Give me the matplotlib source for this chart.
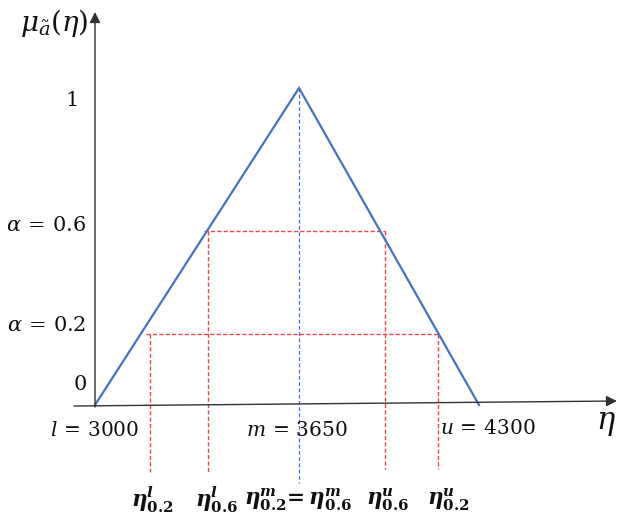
#%%############################################################################
# Triangular fuzzy number a = (l, m, u) with its alpha-cuts (schematic).
###############################################################################
import matplotlib
matplotlib.use('Agg')
import matplotlib.pyplot as plt
import numpy as np

#%%############################################################################
# Data
###############################################################################
eta_tri = [3000, 3650, 4300]          # l, m, u
mu_tri = [0, 1, 0]
alpha_levels = [0.2, 0.6]
# alpha-cut end points
cut_left = [3175, 3360]               # eta^l_0.2, eta^l_0.6
cut_right = [4152, 3960]              # eta^u_0.2, eta^u_0.6
cut_mid = 3650                        # eta^m_0.2 = eta^m_0.6

bottom_labels = [r'$\mathbfit{\eta}^{\mathbfit{l}}_{\mathbf{0.2}}$',
                 r'$\mathbfit{\eta}^{\mathbfit{l}}_{\mathbf{0.6}}$',
                 r'$\mathbfit{\eta}^{\mathbfit{m}}_{\mathbf{0.2}}\!\mathbf{=}\mathbfit{\eta}^{\mathbfit{m}}_{\mathbf{0.6}}$',
                 r'$\mathbfit{\eta}^{\mathbfit{u}}_{\mathbf{0.6}}$',
                 r'$\mathbfit{\eta}^{\mathbfit{u}}_{\mathbf{0.2}}$']
bottom_x = [3182, 3389, 3648, 3971, 4188]

#%%############################################################################
# The drawing is not to scale: piecewise linear axes
###############################################################################
W, H = 629, 519

def piecewise(src, dst):
    src = np.asarray(src, float)
    dst = np.asarray(dst, float)
    def f(v):
        v = np.asarray(v, float)
        out = np.interp(v, src, dst)
        lo_slope = (dst[1] - dst[0]) / (src[1] - src[0])
        hi_slope = (dst[-1] - dst[-2]) / (src[-1] - src[-2])
        out = np.where(v < src[0], dst[0] + (v - src[0]) * lo_slope, out)
        out = np.where(v > src[-1], dst[-1] + (v - src[-1]) * hi_slope, out)
        return out
    return f

x_fwd = piecewise([3000, 3650, 4300], [95, 299, 479])
x_inv = piecewise([95, 299, 479], [3000, 3650, 4300])
y_fwd = piecewise([0, 0.2, 0.6, 1], [H - 405, H - 334, H - 231, H - 88])
y_inv = piecewise([H - 405, H - 334, H - 231, H - 88], [0, 0.2, 0.6, 1])

plt.rcParams['mathtext.fontset'] = 'custom'
plt.rcParams['mathtext.rm'] = 'DejaVu Serif'
plt.rcParams['mathtext.it'] = 'DejaVu Serif:italic'
plt.rcParams['mathtext.bf'] = 'DejaVu Serif:bold'
plt.rcParams['mathtext.bfit'] = 'DejaVu Serif:italic:bold'

fig = plt.figure(figsize=(W / 100, H / 100), dpi=100)
ax = fig.add_axes([0, 0, 1, 1])
ax.set_xscale('function', functions=(x_fwd, x_inv))
ax.set_yscale('function', functions=(y_fwd, y_inv))
ax.set_xlim(float(x_inv(0)), float(x_inv(W)))
ax.set_ylim(float(y_inv(0)), float(y_inv(H)))
ax.axis('off')

def fpos(px, py):
    # pixel position (from top left) -> figure fraction
    return (px / W, 1 - py / H)

BLUE = '#4472C4'
RED = '#F0434C'
INK = '#111111'

# axes arrows
ax.annotate('', xy=fpos(95, 12), xytext=fpos(95, 407), xycoords='figure fraction',
            arrowprops=dict(arrowstyle='-|>', color='#333333', lw=1.0, mutation_scale=16,
                            shrinkA=0, shrinkB=0))
ax.annotate('', xy=fpos(617, 401), xytext=fpos(74, 406), xycoords='figure fraction',
            arrowprops=dict(arrowstyle='-|>', color='#333333', lw=1.0, mutation_scale=16,
                            shrinkA=0, shrinkB=0))

# alpha cuts
drop = -0.19
for a, xl, xr in zip(alpha_levels, cut_left, cut_right):
    ax.plot([xl - 12, xr], [a, a], color=RED, lw=1.0, ls=(0, (3, 1.6)))
    ax.plot([xl, xl], [a, drop], color=RED, lw=1.0, ls=(0, (3, 1.6)))
    ax.plot([xr, xr], [a, drop + 0.01], color=RED, lw=1.0, ls=(0, (3, 1.6)))
ax.plot([cut_mid, cut_mid], [1, -0.22], color=BLUE, lw=0.9, ls=(0, (3, 2)))

# membership function
ax.plot(eta_tri, mu_tri, color=BLUE, lw=1.6, solid_joinstyle='miter')

# text
fig.text(*fpos(54, 23), r'$\mu_{\tilde{a}}(\eta)$', fontsize=20, color=INK, ha='center', va='center')
fig.text(*fpos(71, 100), '$1$', fontsize=15, color=INK, ha='center', va='center')
fig.text(*fpos(86, 225), r'$\alpha\,=\,0.6$', fontsize=15, color=INK, ha='right', va='center')
fig.text(*fpos(86, 325), r'$\alpha\,=\,0.2$', fontsize=15, color=INK, ha='right', va='center')
fig.text(*fpos(80, 384), '$0$', fontsize=15, color=INK, ha='center', va='center')
fig.text(*fpos(95, 431), r'$l\,=\,3000$', fontsize=14.5, color=INK, ha='center', va='center')
fig.text(*fpos(297, 431), r'$m\,=\,3650$', fontsize=14.5, color=INK, ha='center', va='center')
fig.text(*fpos(488, 429), r'$u\,=\,4300$', fontsize=14.5, color=INK, ha='center', va='center')
fig.text(*fpos(606, 424), r'$\eta$', fontsize=22, color=INK, ha='center', va='center')

for xv, lab in zip(bottom_x, bottom_labels):
    ax.text(xv, float(y_inv(H - 500)), lab, fontsize=15.5, color=INK, ha='center', va='center')

fig.savefig('out.png', dpi=100)
